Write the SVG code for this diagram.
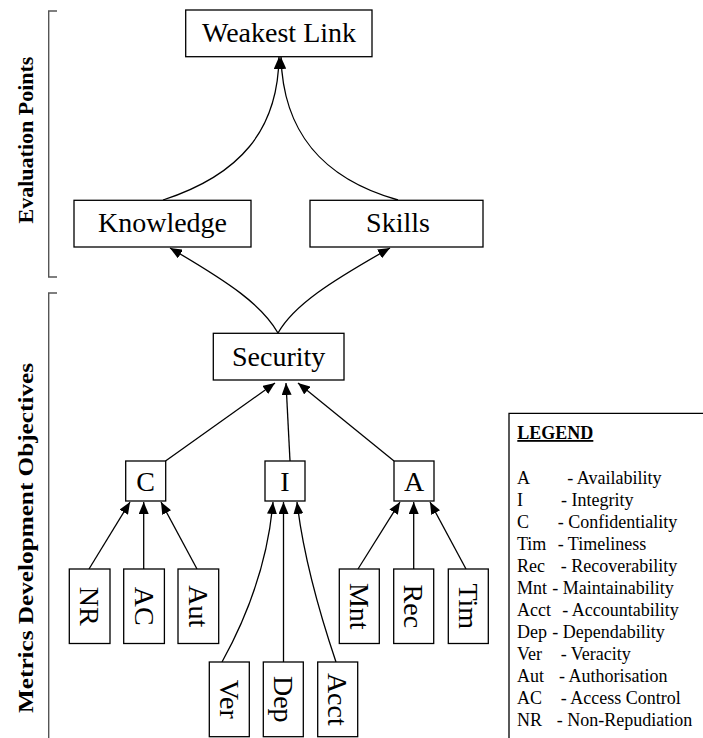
<svg xmlns="http://www.w3.org/2000/svg" width="703" height="738" viewBox="0 0 703 738">
<style>
.box{fill:#fff;stroke:#000;stroke-width:1.3}
.t{font-family:"Liberation Serif","Times New Roman",serif;font-size:28px;fill:#000;text-anchor:middle}
.side{font-family:"Liberation Serif","Times New Roman",serif;font-size:22px;font-weight:bold;fill:#000;text-anchor:middle}
.lg{font-family:"Liberation Serif","Times New Roman",serif;font-size:18px;fill:#000}
.edge{fill:none;stroke:#000;stroke-width:1.3;marker-end:url(#ah)}
.br{fill:none;stroke:#555;stroke-width:1.4}
</style>
<defs>
<marker id="ah" viewBox="0 0 12 10" refX="12" refY="5" markerWidth="12" markerHeight="10" markerUnits="userSpaceOnUse" orient="auto">
<path d="M0,0 L12,5 L0,10 z" fill="#000"/>
</marker>
</defs>
<rect width="703" height="738" fill="#fff"/>

<g id="brackets">
<path class="br" d="M57,11 H48.7 V277 H57"/>
<path class="br" d="M57,293 H48.7 V738"/>
<text class="side" transform="translate(33,140) rotate(-90)">Evaluation Points</text>
<text class="side" transform="translate(33,538) rotate(-90)" textLength="350" lengthAdjust="spacingAndGlyphs">Metrics Development Objectives</text>
</g>

<g id="connectors">
<path class="edge" d="M163,200 C240,175 278,130 279,57"/>
<path class="edge" d="M398,200 C320,178 283,130 281,57"/>
<path class="edge" d="M278,333 C262,305 230,283 170,248"/>
<path class="edge" d="M278,333 C294,305 330,282 390,248"/>
<path class="edge" d="M165.5,461 L275,383"/>
<path class="edge" d="M290,461 L286,383"/>
<path class="edge" d="M394,461 L298,383"/>
<path class="edge" d="M89,569 L130,502"/>
<path class="edge" d="M143.7,569 L143.7,502"/>
<path class="edge" d="M197,569 L161,502"/>
<path class="edge" d="M222,662 C248,615 268,560 273,502"/>
<path class="edge" d="M283.5,662 L283.5,502"/>
<path class="edge" d="M336,662 Q305,570 297,502"/>
<path class="edge" d="M358,569 L400,502"/>
<path class="edge" d="M413.7,569 L413.7,502"/>
<path class="edge" d="M466,569 L430,502"/>
</g>

<g id="weakest-link"><rect class="box" x="185.7" y="10" width="186.3" height="46.7"/><text class="t" x="279" y="42">Weakest Link</text></g>
<g id="knowledge"><rect class="box" x="74" y="200.3" width="177" height="46.7"/><text class="t" x="162.5" y="232">Knowledge</text></g>
<g id="skills"><rect class="box" x="310" y="200.3" width="173" height="46.7"/><text class="t" x="398" y="232">Skills</text></g>
<g id="security"><rect class="box" x="213.3" y="333.3" width="130.7" height="46.7"/><text class="t" x="278.7" y="365.5">Security</text></g>
<g id="c"><rect class="box" x="125.7" y="461" width="40" height="40"/><text class="t" x="145.7" y="490.5">C</text></g>
<g id="i"><rect class="box" x="265" y="461" width="40" height="40"/><text class="t" x="285" y="490.5">I</text></g>
<g id="a"><rect class="box" x="394" y="461" width="40" height="40"/><text class="t" x="414" y="490.5">A</text></g>

<g id="nr"><rect class="box" x="69.3" y="569" width="40.7" height="74.5"/><text class="t" transform="translate(89.7,606.3) rotate(90)" x="0" y="9.5">NR</text></g>
<g id="ac"><rect class="box" x="123.7" y="569" width="40.7" height="74.5"/><text class="t" transform="translate(144,606.3) rotate(90)" x="0" y="9.5">AC</text></g>
<g id="aut"><rect class="box" x="178" y="569" width="40.7" height="74.5"/><text class="t" transform="translate(198.3,606.3) rotate(90)" x="0" y="9.5">Aut</text></g>
<g id="mnt"><rect class="box" x="339.3" y="569" width="40" height="74.5"/><text class="t" transform="translate(359.3,606.3) rotate(90)" x="0" y="9.5">Mnt</text></g>
<g id="rec"><rect class="box" x="393.7" y="569" width="40" height="74.5"/><text class="t" transform="translate(413.7,606.3) rotate(90)" x="0" y="9.5">Rec</text></g>
<g id="tim"><rect class="box" x="448.3" y="569" width="40" height="74.5"/><text class="t" transform="translate(468.3,606.3) rotate(90)" x="0" y="9.5">Tim</text></g>
<g id="ver"><rect class="box" x="209.3" y="662" width="40" height="74.7"/><text class="t" transform="translate(229.3,699.3) rotate(90)" x="0" y="9.5">Ver</text></g>
<g id="dep"><rect class="box" x="263.3" y="662" width="40" height="74.7"/><text class="t" transform="translate(283.3,699.3) rotate(90)" x="0" y="9.5">Dep</text></g>
<g id="acct"><rect class="box" x="317.7" y="662" width="40" height="74.7"/><text class="t" transform="translate(337.7,699.3) rotate(90)" x="0" y="9.5">Acct</text></g>

<g id="legend">
<path d="M703,413.3 H509 V738" fill="none" stroke="#000" stroke-width="1.3"/>
<text class="lg" x="517.3" y="439" font-weight="bold" text-decoration="underline">LEGEND</text>
<text class="lg" y="484"><tspan x="517">A</tspan><tspan x="567.3">- Availability</tspan></text>
<text class="lg" y="506"><tspan x="517">I</tspan><tspan x="561">- Integrity</tspan></text>
<text class="lg" y="528"><tspan x="517">C</tspan><tspan x="557.7">- Confidentiality</tspan></text>
<text class="lg" y="550"><tspan x="517">Tim</tspan><tspan x="557.7">- Timeliness</tspan></text>
<text class="lg" y="572"><tspan x="517">Rec</tspan><tspan x="560.7">- Recoverability</tspan></text>
<text class="lg" y="594"><tspan x="517">Mnt</tspan><tspan x="552.3">- Maintainability</tspan></text>
<text class="lg" y="616"><tspan x="517">Acct</tspan><tspan x="562.3">- Accountability</tspan></text>
<text class="lg" y="638"><tspan x="517">Dep</tspan><tspan x="552.3">- Dependability</tspan></text>
<text class="lg" y="660"><tspan x="517">Ver</tspan><tspan x="560.7">- Veracity</tspan></text>
<text class="lg" y="682"><tspan x="517">Aut</tspan><tspan x="559">- Authorisation</tspan></text>
<text class="lg" y="704"><tspan x="517">AC</tspan><tspan x="560.7">- Access Control</tspan></text>
<text class="lg" y="726"><tspan x="517">NR</tspan><tspan x="556.7">- Non-Repudiation</tspan></text>
</g>
</svg>
